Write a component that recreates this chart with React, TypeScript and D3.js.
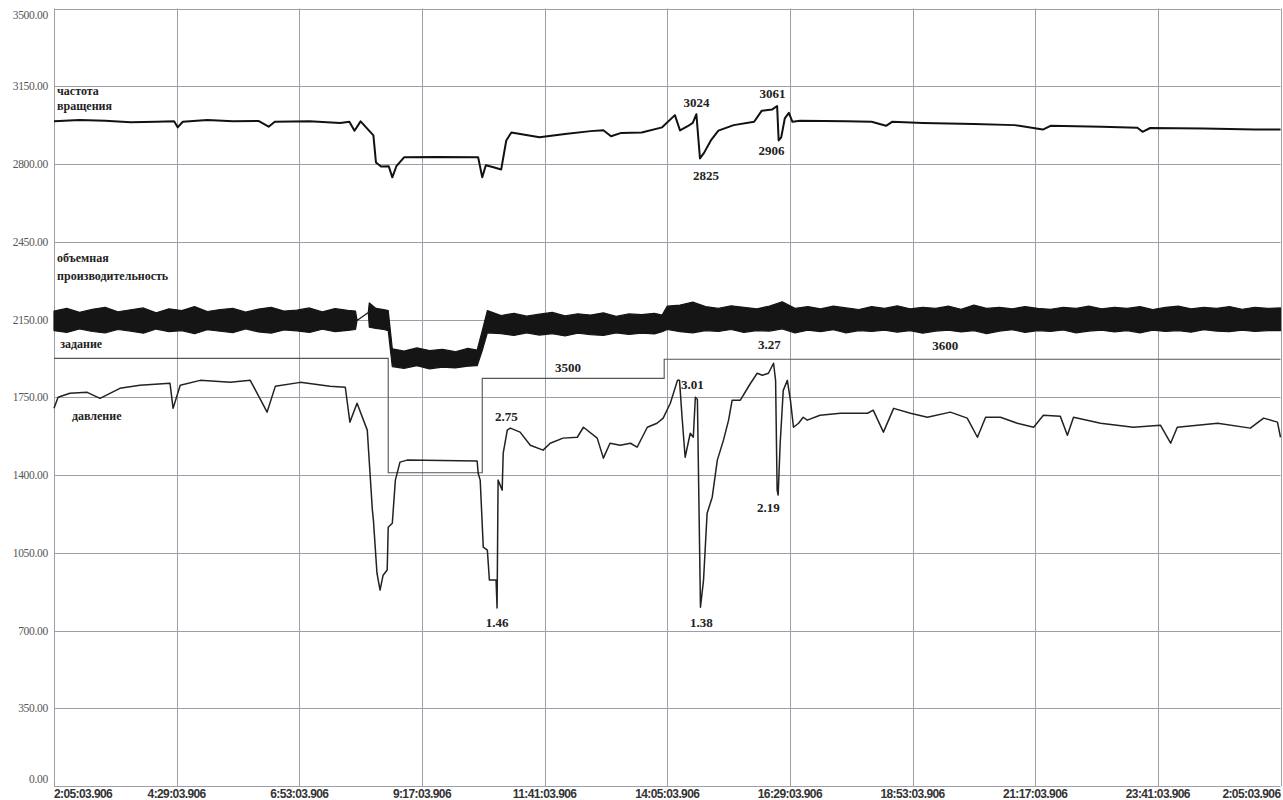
import React from "react";
import * as d3 from "d3";

// ---------- data ----------
// time in hours since 2:05:03.906
const xTickHours = [0, 2.4, 4.8, 7.2, 9.6, 12, 14.4, 16.8, 19.2, 21.6, 24];
const xTickLabels = [
  "2:05:03.906", "4:29:03.906", "6:53:03.906", "9:17:03.906", "11:41:03.906",
  "14:05:03.906", "16:29:03.906", "18:53:03.906", "21:17:03.906", "23:41:03.906", "2:05:03.906",
];
const yTickValues = [0, 350, 700, 1050, 1400, 1750, 2100, 2450, 2800, 3150, 3500];
const yTickLabels = [
  "0.00", "350.00", "700.00", "1050.00", "1400.00", "1750.00", "2150.00",
  "2450.00", "2800.00", "3150.00", "3500.00",
];

// частота вращения
const rotT = [0, 0.5, 1.0, 1.5, 2.0, 2.35, 2.42, 2.52, 3.0, 3.5, 4.0, 4.2, 4.32, 5.0, 5.6, 5.78, 5.88, 6.0, 6.25, 6.3, 6.4, 6.55, 6.62, 6.7, 6.85,
  7.5, 8.3, 8.38, 8.45, 8.6, 8.75, 8.85, 8.95, 9.5, 10.0, 10.5, 10.75, 10.9, 11.1, 11.5, 11.9, 12.15, 12.25, 12.4, 12.5, 12.57, 12.64,
  12.72, 12.85, 13.0, 13.3, 13.7, 13.85, 14.05, 14.15, 14.18, 14.23, 14.3, 14.38, 14.45, 14.6, 15.5, 16.0, 16.28, 16.4, 17, 18,
  18.8, 19.35, 19.5, 20.5, 21.2, 21.3, 21.45, 22.5, 23.5, 24];
const rotV = [2992, 2998, 2995, 2988, 2990, 2992, 2965, 2990, 2998, 2992, 2994, 2968, 2990, 2992, 2985, 2990, 2950, 2992, 2929, 2807, 2789, 2790, 2740, 2790, 2830,
  2832, 2830, 2740, 2794, 2785, 2775, 2906, 2942, 2920, 2935, 2948, 2952, 2925, 2940, 2942, 2965, 3020, 2951, 2970, 2985, 3024, 2825,
  2850, 2905, 2950, 2975, 2990, 3040, 3045, 3061, 2906, 2920, 3005, 3030, 2990, 2995, 2992, 2990, 2972, 2990, 2985, 2980,
  2975, 2955, 2972, 2968, 2963, 2945, 2962, 2960, 2955, 2955];

// объемная производительность (envelope of the noisy trace)
const flowT = [
  0, 0.25, 0.5, 0.75, 1.0, 1.25, 1.5, 1.75, 2.0, 2.25, 2.5, 2.75, 3.0, 3.25, 3.5, 3.75, 4.0, 4.25, 4.5, 4.75, 5.0, 5.25, 5.5, 5.75, 5.9,
  5.93, 6.15, 6.17, 6.3, 6.45, 6.54,
  6.62, 6.85, 7.1, 7.35, 7.6, 7.85, 8.1, 8.28,
  8.38, 8.48,
  8.75, 9.0, 9.25, 9.5, 9.75, 10, 10.25, 10.5, 10.75, 11, 11.25, 11.5, 11.75, 11.9,
  12.0, 12.25, 12.5, 12.75, 13.0, 13.25, 13.5, 13.75, 14.0, 14.25, 14.5, 14.75, 15.0, 15.25, 15.5, 15.75, 16.0, 16.25, 16.5, 16.75,
  17.0, 17.25, 17.5, 17.75, 18.0, 18.25, 18.5, 18.75, 19.0, 19.25, 19.5, 19.75, 20.0, 20.25, 20.5, 20.75, 21.0, 21.25, 21.5, 21.75,
  22.0, 22.25, 22.5, 22.75, 23.0, 23.25, 23.5, 23.75, 24.0];
const flowHigh = [
  2138, 2150, 2132, 2146, 2155, 2135, 2144, 2152, 2130, 2148, 2140, 2158, 2136, 2145, 2150, 2133, 2147, 2155, 2138, 2142, 2152, 2134, 2149, 2141, 2138,
  2096, 2132, 2175, 2150, 2145, 2140,
  1968, 1958, 1972, 1960, 1966, 1955, 1970, 1962,
  2050, 2140,
  2118, 2128, 2115, 2124, 2132, 2116, 2126, 2120, 2130, 2114, 2125, 2122, 2128, 2120,
  2160, 2165, 2178, 2158, 2150, 2162, 2155, 2148, 2160, 2180, 2150, 2158, 2148, 2160, 2152, 2145, 2158, 2150, 2162, 2148,
  2155, 2150, 2160, 2146, 2165, 2150, 2155, 2148, 2158, 2150, 2146, 2155, 2150, 2160, 2148, 2155, 2150, 2158, 2145, 2155,
  2160, 2148, 2155, 2150, 2158, 2146, 2155, 2150, 2152];
const flowLow = [
  2050, 2042, 2058, 2046, 2040, 2055, 2048, 2038, 2057, 2045, 2050, 2036, 2054, 2047, 2041, 2058, 2044, 2039, 2053, 2049, 2042, 2056, 2045, 2051, 2055,
  2096, 2132, 2065, 2060, 2055, 2050,
  1888, 1880, 1892, 1878, 1886, 1882, 1890, 1892,
  1960, 2040,
  2036, 2028, 2040, 2030, 2036, 2026, 2038, 2032, 2028, 2040, 2033, 2038, 2035, 2045,
  2055, 2045, 2040, 2050, 2046, 2055, 2042, 2050, 2048, 2058, 2040, 2052, 2045, 2054, 2040, 2050, 2046, 2052, 2043, 2050,
  2038, 2048, 2052, 2044, 2050, 2036, 2048, 2054, 2042, 2050, 2046, 2053, 2040, 2048, 2052, 2044, 2050, 2040, 2052, 2046,
  2050, 2043, 2054, 2048, 2045, 2052, 2046, 2050, 2050];

// задание (step)
const setT = [0, 6.54, 8.38, 11.94, 24];
const setV = [1925, 1410, 1835, 1921, 1921];

// давление
const presT = [0, 0.08, 0.31, 0.65, 0.9, 1.29, 1.68, 2.27, 2.33, 2.47, 2.86, 3.45, 3.84, 4.17, 4.33, 4.82, 5.4, 5.7, 5.79, 5.93,
  6.13, 6.23, 6.25, 6.32, 6.38, 6.44, 6.52, 6.54, 6.62, 6.68, 6.77, 6.91, 8.28, 8.30, 8.34, 8.40, 8.48, 8.52, 8.65, 8.67,
  8.69, 8.77, 8.79, 8.87, 8.93, 9.12, 9.32, 9.57, 9.71, 9.96, 10.24, 10.36, 10.63, 10.75, 10.88, 11.08, 11.28, 11.41, 11.61,
  11.80, 11.92, 12.06, 12.20, 12.24, 12.29, 12.35, 12.45, 12.51, 12.55, 12.59, 12.65, 12.71, 12.78, 12.88, 12.98, 13.10, 13.20,
  13.27, 13.43, 13.63, 13.76, 13.86, 13.98, 14.08, 14.12, 14.15, 14.17, 14.21, 14.27, 14.35, 14.41, 14.47, 14.57, 14.66, 14.74,
  14.99, 15.39, 15.92, 16.03, 16.23, 16.43, 16.76, 17.09, 17.54, 17.87, 18.07, 18.23, 18.52, 18.85, 19.17, 19.36, 19.69, 19.83,
  19.95, 20.48, 21.12, 21.65, 21.85, 21.98, 22.77, 23.41, 23.67, 23.94, 24.0];
const presV = [1700, 1750, 1768, 1772, 1745, 1790, 1804, 1813, 1700, 1804, 1826, 1817, 1826, 1683, 1799, 1817, 1799, 1795, 1638, 1723,
  1602, 1242, 1197, 958, 882, 949, 972, 1165, 1183, 1377, 1458, 1467, 1463, 1408, 1377, 1075, 1062, 927, 927, 801,
  1377, 1332, 1498, 1602, 1611, 1593, 1534, 1512, 1543, 1566, 1570, 1615, 1566, 1476, 1543, 1534, 1543, 1525, 1615,
  1633, 1656, 1723, 1826, 1826, 1660, 1480, 1588, 1570, 1750, 1740, 805, 927, 1228, 1300, 1467, 1557, 1647,
  1737, 1737, 1813, 1858, 1849, 1858, 1903, 1826, 1332, 1310, 1543, 1781, 1826, 1737, 1615, 1633, 1660, 1647,
  1669, 1678, 1678, 1692, 1593, 1700, 1678, 1660, 1683, 1656, 1570, 1660, 1660, 1633, 1615, 1669, 1665, 1579,
  1660, 1633, 1615, 1624, 1543, 1615, 1633, 1611, 1656, 1638, 1570];

// labels in data space
const seriesLabels = [
  { text: "частота", t: 0.06, v: 3109 },
  { text: "вращения", t: 0.06, v: 3041 },
  { text: "объемная", t: 0.06, v: 2357 },
  { text: "производительность", t: 0.06, v: 2276 },
  { text: "задание", t: 0.12, v: 1970 },
  { text: "давление", t: 0.35, v: 1647 },
];
const annotations = [
  { text: "3024", t: 12.57, v: 3055 },
  { text: "2825", t: 12.76, v: 2726 },
  { text: "3061", t: 14.06, v: 3095 },
  { text: "2906", t: 14.04, v: 2839 },
  { text: "3500", t: 10.06, v: 1862 },
  { text: "3600", t: 17.44, v: 1961 },
  { text: "3.27", t: 14.0, v: 1966 },
  { text: "3.01", t: 12.49, v: 1786 },
  { text: "2.75", t: 8.85, v: 1642 },
  { text: "2.19", t: 13.98, v: 1233 },
  { text: "1.46", t: 8.67, v: 715 },
  { text: "1.38", t: 12.67, v: 715 },
];

// ---------- chart ----------
const W = 1283, H = 800;
const x = d3.scaleLinear().domain([0, 24]).range([54, 1280.5]);
const y = d3.scaleLinear().domain([0, 3500]).range([786, 8.5]);

export default function App() {
  const rot = rotT.map((t, i) => [t, rotV[i]] as [number, number]);
  const pres = presT.map((t, i) => [t, presV[i]] as [number, number]);
  const setp = setT.map((t, i) => [t, setV[i]] as [number, number]);
  const flow = flowT.map((t, i) => ({ t, hi: flowHigh[i], lo: flowLow[i] }));

  const line = d3.line<[number, number]>().x((d) => x(d[0])).y((d) => y(d[1]));
  const stepLine = d3.line<[number, number]>().x((d) => x(d[0])).y((d) => y(d[1])).curve(d3.curveStepAfter);
  const area = d3.area<{ t: number; hi: number; lo: number }>()
    .x((d) => x(d.t)).y0((d) => y(d.lo)).y1((d) => y(d.hi));

  const serif = "'Liberation Serif', 'Times New Roman', serif";
  const sans = "'Liberation Sans', Arial, sans-serif";
  const grid = "#9e9eaa";

  return (
    <svg width={W} height={H} style={{ position: "absolute", left: 0, top: 0, background: "#fff" }}>
      <rect x={0} y={0} width={W} height={H} fill="#fff" />
      {/* grid */}
      {yTickValues.map((v) => (
        <line key={"gy" + v} x1={x(0)} x2={x(24)} y1={Math.round(y(v)) + 0.5} y2={Math.round(y(v)) + 0.5} stroke={grid} strokeWidth={1} />
      ))}
      {xTickHours.map((t) => (
        <line key={"gx" + t} x1={Math.round(x(t)) + 0.5} x2={Math.round(x(t)) + 0.5} y1={y(3500)} y2={y(0)} stroke={grid} strokeWidth={1} />
      ))}
      {/* y labels */}
      {yTickValues.map((v, i) => (
        <text key={"yl" + v} x={48} y={Math.min(Math.max(y(v), 15), 779)} dy="0.35em" textAnchor="end"
          fontFamily={serif} fontSize={11.5} fill="#555" letterSpacing={-0.3}>{yTickLabels[i]}</text>
      ))}
      {/* x labels */}
      {xTickHours.map((t, i) => (
        <text key={"xl" + i} x={x(t)} y={798} textAnchor={i === 0 ? "start" : i === xTickHours.length - 1 ? "end" : "middle"}
          fontFamily={sans} fontSize={12} fontWeight="bold" fill="#333" letterSpacing={-0.6}>{xTickLabels[i]}</text>
      ))}
      {/* setpoint */}
      <path d={stepLine(setp) || ""} fill="none" stroke="#555" strokeWidth={1.1} />
      {/* flow band */}
      <path d={area(flow) || ""} fill="#151515" stroke="#151515" strokeWidth={1.2} strokeLinejoin="round" />
      {/* rotation */}
      <path d={line(rot) || ""} fill="none" stroke="#111" strokeWidth={2} strokeLinejoin="round" />
      {/* pressure */}
      <path d={line(pres) || ""} fill="none" stroke="#222" strokeWidth={1.5} strokeLinejoin="round" />
      {/* series labels */}
      {seriesLabels.map((l) => (
        <text key={l.text} x={x(l.t)} y={y(l.v)} fontFamily={serif} fontWeight="bold" fontSize={12} fill="#222">{l.text}</text>
      ))}
      {annotations.map((a) => (
        <text key={a.text} x={x(a.t)} y={y(a.v)} textAnchor="middle" fontFamily={serif} fontWeight="bold" fontSize={13} fill="#222">{a.text}</text>
      ))}
    </svg>
  );
}
